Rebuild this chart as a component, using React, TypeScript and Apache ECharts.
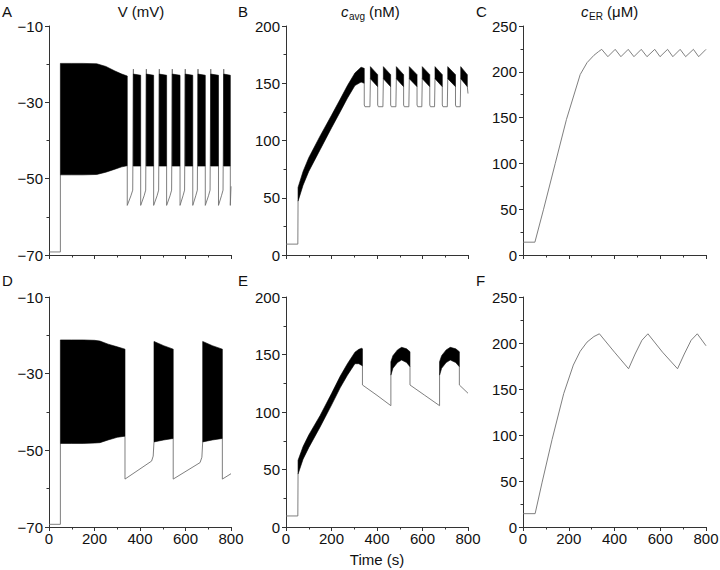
import React, { useEffect, useRef } from "react";
import * as echarts from "echarts";

const FONT = "'Liberation Sans', Arial, Helvetica, sans-serif";

// ---------- Panel A : V (mV), continuous bursting ----------
const A_band1_t = [50, 100, 150, 210, 250, 290, 320, 344];
const A_band1_hi = [-19.8, -19.8, -19.8, -19.9, -20.6, -21.8, -22.6, -23.1];
const A_band1_lo = [-49.0, -49.0, -49.0, -48.9, -48.3, -47.5, -46.9, -46.6];
const A_burst_start = [371, 428, 485, 542, 599, 655, 711, 768];
const A_burst_end = [403, 460, 517, 576, 632, 687, 745, 797];
const A_burst_hi = [-22.6, -22.9];
const A_burst_lo = [-46.7, -46.7];
const A_trace: (number[] | null)[] = [
  [0, -69.2], [50, -69.2], [50, -49], null,
  [344, -46.6], [344, -57], [360, -54.5], [368, -53], [371, -21.3], [371, -46.7], null,
  [403, -46.7], [403, -57], [418, -54.5], [425, -53], [428, -21.3], [428, -46.7], null,
  [460, -46.7], [460, -57], [475, -54.5], [482, -53], [485, -21.3], [485, -46.7], null,
  [517, -46.7], [517, -57], [532, -54.5], [539, -53], [542, -21.3], [542, -46.7], null,
  [576, -46.7], [576, -57], [589, -54.5], [596, -53], [599, -21.3], [599, -46.7], null,
  [632, -46.7], [632, -57], [645, -54.5], [652, -53], [655, -21.3], [655, -46.7], null,
  [687, -46.7], [687, -57], [701, -54.5], [708, -53], [711, -21.3], [711, -46.7], null,
  [745, -46.7], [745, -57], [758, -54.5], [765, -53], [768, -21.3], [768, -46.7], null,
  [797, -46.7], [797, -57], [800, -52],
];

// ---------- Panel B : c_avg (nM) ----------
const B_band1_t = [53, 75, 100, 150, 200, 238, 270, 303, 330, 344];
const B_band1_hi = [59, 73, 85, 104, 122, 136, 148, 159, 164, 163];
const B_band1_lo = [47, 61, 73, 92, 111, 125, 137, 148, 151, 150];
const B_burst_hi = [164.5, 157.5];
const B_burst_lo = [154, 147];
const B_trace: (number[] | null)[] = [
  [0, 9.5], [52, 9.5], [53, 47], null,
  [344, 150], [344, 131], [347, 129.5], [369, 129.5], [371, 154], null,
  [403, 147], [403, 131], [406, 129.5], [426, 129.5], [428, 154], null,
  [460, 147], [460, 131], [463, 129.5], [483, 129.5], [485, 154], null,
  [517, 147], [517, 131], [520, 129.5], [540, 129.5], [542, 154], null,
  [576, 147], [576, 131], [579, 129.5], [597, 129.5], [599, 154], null,
  [632, 147], [632, 131], [635, 129.5], [653, 129.5], [655, 154], null,
  [687, 147], [687, 131], [690, 129.5], [709, 129.5], [711, 154], null,
  [745, 147], [745, 131], [748, 129.5], [766, 129.5], [768, 154], null,
  [797, 147], [800, 141],
];

// ---------- Panel C : c_ER (uM) ----------
const C_trace: (number[] | null)[] = [
  [0, 14], [52, 14], [90, 50], [141, 100], [190, 148], [250, 197], [280, 210], [310, 218], [330, 222], [344, 224.5],
  [371, 216.5], [403, 224.5], [428, 216.5], [460, 224.5], [485, 216.5], [517, 224.5], [542, 216.5],
  [576, 224.5], [599, 216.5], [632, 224.5], [655, 216.5], [687, 224.5], [711, 216.5], [745, 224.5],
  [768, 216.5], [800, 224.5],
];

// ---------- Panel D : V (mV), slow bursting ----------
const D_band1_t = [50, 100, 150, 200, 224, 260, 300, 334];
const D_band1_hi = [-21.2, -21.2, -21.2, -21.3, -21.5, -22.3, -23.0, -23.6];
const D_band1_lo = [-48.2, -48.2, -48.2, -48.1, -48.0, -47.3, -46.6, -46.3];
const D_band2_t = [461.5, 504, 546];
const D_band3_t = [675.6, 718, 762];
const D_burst_hi = [-21.6, -22.7, -23.6];
const D_burst_lo = [-47.8, -47.3, -46.9];
const D_trace: (number[] | null)[] = [
  [0, -69.3], [50, -69.3], [50, -48.2], null,
  [334, -46.3], [334, -57.5], [451, -52.8], [458, -51.5], [461.5, -47.8], null,
  [546, -46.9], [546, -57.5], [664, -53.2], [672, -51.8], [675.6, -47.8], null,
  [762, -46.9], [762, -57.5], [800, -56.1],
];

// ---------- Panel E : c_avg (nM), slow bursting ----------
const E_band1_t = [53, 75, 100, 150, 200, 238, 270, 303, 320, 333, 336];
const E_band1_hi = [58, 70, 80, 97, 116, 131, 142, 152, 154.5, 155.4, 155];
const E_band1_lo = [46, 59, 69, 87, 106, 121, 132, 142, 142, 140.5, 140];
const E_band2_t = [461, 470, 490, 508, 530, 545];
const E_band3_t = [675, 684, 704, 722, 746, 762];
const E_burst_hi = [143.7, 149, 154, 156.2, 155, 152.4];
const E_burst_lo = [132, 138, 143, 145.2, 143, 139.4];
const E_trace: (number[] | null)[] = [
  [0, 9.6], [52, 9.6], [53, 46], null,
  [336, 140], [336, 123.5], [400, 114.5], [461, 105.5], [461, 132], null,
  [545, 139.4], [545, 123.5], [610, 114.5], [675, 105.5], [675, 132], null,
  [762, 139.4], [762, 123.5], [800, 116.3],
];

// ---------- Panel F : c_ER (uM), slow bursting ----------
const F_trace: (number[] | null)[] = [
  [0, 14.5], [53, 14.5], [83, 48], [127, 95], [178, 145], [220, 176], [250, 191], [280, 201], [310, 207], [334, 210],
  [400, 190], [461.5, 172], [490, 188], [520, 203], [546, 210],
  [610, 190], [675.6, 172], [705, 188], [735, 203], [762, 210], [800, 197],
];

// ---------- axis settings ----------
const X_TICKS = { min: 0, max: 800, interval: 200 };
const V_AXIS = { min: -70, max: -10, interval: 20 };
const CAVG_AXIS = { min: 0, max: 200, interval: 50 };
const CER_AXIS = { min: 0, max: 250, interval: 50 };

type Band = { t: number[]; hi: number[]; lo: number[] };

function bursts(starts: number[], ends: number[], hi: number[], lo: number[]): Band[] {
  return starts.map((s, k) => ({ t: [s, ends[k]], hi, lo }));
}

function splitSegments(trace: (number[] | null)[]) {
  const segs: number[][][] = [];
  let cur: number[][] = [];
  trace.forEach((p) => {
    if (p === null) {
      if (cur.length) segs.push(cur);
      cur = [];
    } else cur.push(p);
  });
  if (cur.length) segs.push(cur);
  return segs;
}

const GRIDS = [
  { left: 49, top: 26, width: 182, height: 229 },
  { left: 286, top: 26, width: 182, height: 229 },
  { left: 523, top: 26, width: 183, height: 229 },
  { left: 49, top: 297, width: 182, height: 230 },
  { left: 286, top: 297, width: 182, height: 230 },
  { left: 523, top: 297, width: 183, height: 230 },
];

const AXIS_COLOR = "#333";

function fmt(v: number) {
  return String(v).replace("-", "\u2212");
}

function makeX(i: number, labels: boolean) {
  return {
    type: "value",
    gridIndex: i,
    ...X_TICKS,
    axisLine: { show: true, onZero: false, lineStyle: { color: AXIS_COLOR, width: 1 } },
    axisTick: { show: true, length: 4, lineStyle: { color: AXIS_COLOR } },
    minorTick: { show: true, splitNumber: 2, length: 2.5, lineStyle: { color: AXIS_COLOR } },
    splitLine: { show: false },
    minorSplitLine: { show: false },
    axisLabel: {
      show: labels,
      fontSize: 15,
      color: "#111",
      fontFamily: FONT,
      margin: 4,
      showMinLabel: true,
      showMaxLabel: true,
      hideOverlap: false,
    },
  };
}

function makeY(i: number, ax: { min: number; max: number; interval: number }) {
  return {
    type: "value",
    gridIndex: i,
    ...ax,
    axisLine: { show: true, onZero: false, lineStyle: { color: AXIS_COLOR, width: 1 } },
    axisTick: { show: true, length: 4, lineStyle: { color: AXIS_COLOR } },
    minorTick: { show: true, splitNumber: 2, length: 2.5, lineStyle: { color: AXIS_COLOR } },
    splitLine: { show: false },
    minorSplitLine: { show: false },
    axisLabel: {
      show: true,
      fontSize: 15,
      color: "#111",
      fontFamily: FONT,
      margin: 6,
      formatter: fmt,
      showMinLabel: true,
      showMaxLabel: true,
      hideOverlap: false,
    },
  };
}

function bandSeries(i: number, bands: Band[]) {
  return {
    type: "custom",
    xAxisIndex: i,
    yAxisIndex: i,
    z: 3,
    silent: true,
    clip: false,
    encode: { x: [0, 1], y: [3, 4] },
    data: bands.map((b, k) => [b.t[0], b.t[b.t.length - 1], k, Math.min(...b.lo), Math.max(...b.hi)]),
    renderItem: (_p: any, api: any) => {
      const b = bands[api.value(2)];
      const upper = b.t.map((t, j) => api.coord([t, b.hi[j]]));
      const lower = b.t.map((t, j) => api.coord([t, b.lo[j]])).reverse();
      return {
        type: "polygon",
        shape: { points: upper.concat(lower) },
        style: { fill: "#000", stroke: "#000", lineWidth: 0.6 },
      };
    },
  };
}

function traceSeries(i: number, trace: (number[] | null)[]) {
  return splitSegments(trace).map((seg) => ({
    type: "line",
    xAxisIndex: i,
    yAxisIndex: i,
    z: 2,
    silent: true,
    showSymbol: false,
    symbol: "none",
    data: seg,
    lineStyle: { color: "#707070", width: 0.9 },
  }));
}

function txt(x: number, y: number, text: string, size: number, extra: any = {}) {
  return {
    type: "text",
    x,
    y,
    silent: true,
    style: {
      text,
      fontSize: size,
      fontFamily: FONT,
      fill: "#111",
      textVerticalAlign: "middle",
      textAlign: "left",
      ...extra,
    },
  };
}

export default function App() {
  const ref = useRef<HTMLDivElement>(null);
  useEffect(() => {
    document.body.style.margin = "0";
    if (!ref.current) return;
    const chart = echarts.init(ref.current, null, { renderer: "svg" });
    const option: any = {
      animation: false,
      backgroundColor: "#fff",
      grid: GRIDS.map((g) => ({ ...g, containLabel: false, outerBoundsMode: "none" })),
      xAxis: [makeX(0, false), makeX(1, false), makeX(2, false), makeX(3, true), makeX(4, true), makeX(5, true)],
      yAxis: [
        makeY(0, V_AXIS),
        makeY(1, CAVG_AXIS),
        makeY(2, CER_AXIS),
        makeY(3, V_AXIS),
        makeY(4, CAVG_AXIS),
        makeY(5, CER_AXIS),
      ],
      series: [
        ...traceSeries(0, A_trace),
        bandSeries(0, [
          { t: A_band1_t, hi: A_band1_hi, lo: A_band1_lo },
          ...bursts(A_burst_start, A_burst_end, A_burst_hi, A_burst_lo),
        ]),
        ...traceSeries(1, B_trace),
        bandSeries(1, [
          { t: B_band1_t, hi: B_band1_hi, lo: B_band1_lo },
          ...bursts(A_burst_start, A_burst_end, B_burst_hi, B_burst_lo),
        ]),
        ...traceSeries(2, C_trace),
        ...traceSeries(3, D_trace),
        bandSeries(3, [
          { t: D_band1_t, hi: D_band1_hi, lo: D_band1_lo },
          { t: D_band2_t, hi: D_burst_hi, lo: D_burst_lo },
          { t: D_band3_t, hi: D_burst_hi, lo: D_burst_lo },
        ]),
        ...traceSeries(4, E_trace),
        bandSeries(4, [
          { t: E_band1_t, hi: E_band1_hi, lo: E_band1_lo },
          { t: E_band2_t, hi: E_burst_hi, lo: E_burst_lo },
          { t: E_band3_t, hi: E_burst_hi, lo: E_burst_lo },
        ]),
        ...traceSeries(5, F_trace),
      ],
      graphic: [
        txt(2, 11, "A", 15),
        txt(141, 11, "V (mV)", 15, { textAlign: "center" }),
        txt(238, 11, "B", 15),
        txt(341, 11, "c", 15, { fontStyle: "italic" }),
        txt(349, 16, "avg", 10),
        txt(369, 11, "(nM)", 15),
        txt(476, 11, "C", 15),
        txt(581, 11, "c", 15, { fontStyle: "italic" }),
        txt(589, 16, "ER", 10),
        txt(607, 11, "(\u03bcM)", 15),
        txt(2, 280, "D", 15),
        txt(238, 280, "E", 15),
        txt(476, 280, "F", 15),
        txt(377, 559, "Time (s)", 15, { textAlign: "center" }),
      ],
    };
    chart.setOption(option);
    return () => chart.dispose();
  }, []);
  return <div ref={ref} style={{ width: 720, height: 570 }} />;
}
